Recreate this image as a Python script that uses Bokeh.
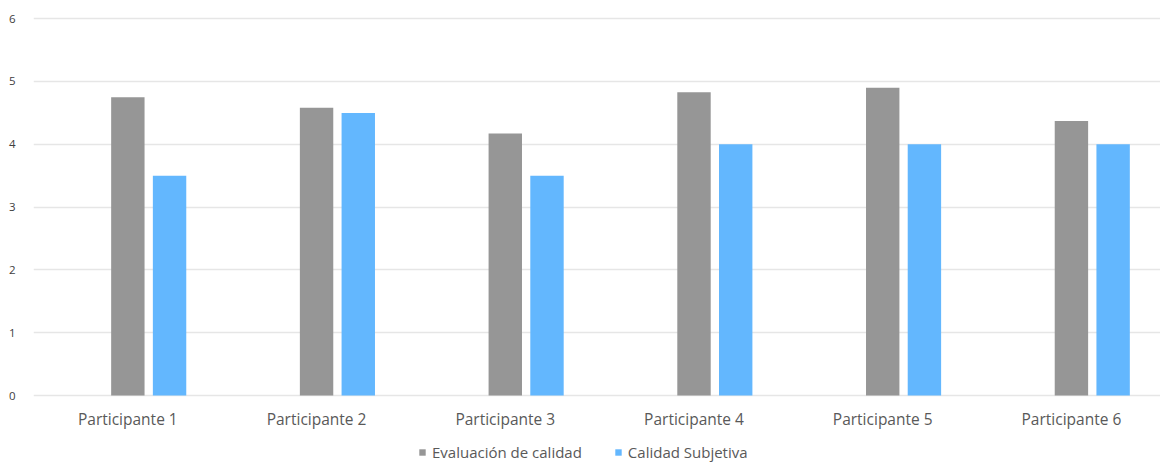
from bokeh.plotting import figure
from bokeh.layouts import column
from bokeh.models import Range1d, Legend, LegendItem, FixedTicker, ColumnDataSource
from bokeh.embed import file_html
from bokeh.resources import INLINE

# Data
participants = ["Participante 1", "Participante 2", "Participante 3",
                "Participante 4", "Participante 5", "Participante 6"]
evaluacion_calidad = [4.75, 4.58, 4.17, 4.83, 4.9, 4.37]
calidad_subjetiva = [3.5, 4.5, 3.5, 4.0, 4.0, 4.0]
y_ticks = [0, 1, 2, 3, 4, 5, 6]
series_names = ["Evaluación de calidad", "Calidad Subjetiva"]

GRAY = "#969696"
BLUE = "#63b7fe"
TEXT = "#595959"
FONT = "Open Sans"

idx = list(range(len(participants)))
bar_w = 0.177
src = ColumnDataSource(dict(
    x_eval=[i for i in idx],
    x_subj=[i + 0.221 for i in idx],
    eval=evaluacion_calidad,
    subj=calidad_subjetiva,
))

# Main bar chart
p = figure(width=1160, height=434, output_backend="svg", toolbar_location=None,
           x_range=Range1d(-0.5, 5.472), y_range=Range1d(-0.03, 6.05),
           min_border_left=33, min_border_right=0, min_border_top=15,
           min_border_bottom=37)
p.outline_line_color = None
p.background_fill_color = "white"
p.border_fill_color = "white"

p.vbar(x="x_eval", top="eval", bottom=0, width=bar_w, source=src,
       fill_color=GRAY, line_color=None)
p.vbar(x="x_subj", top="subj", bottom=0, width=bar_w, source=src,
       fill_color=BLUE, line_color=None)

p.xaxis.ticker = FixedTicker(ticks=idx)
p.xaxis.major_label_overrides = {i: name for i, name in zip(idx, participants)}
p.xaxis.axis_line_color = None
p.xaxis.major_tick_line_color = None
p.xaxis.minor_tick_line_color = None
p.xaxis.major_label_standoff = 4
p.xaxis.major_label_text_font = FONT
p.xaxis.major_label_text_font_size = "15.5px"
p.xaxis.major_label_text_color = TEXT

p.yaxis.ticker = FixedTicker(ticks=y_ticks)
p.yaxis.axis_line_color = None
p.yaxis.major_tick_line_color = None
p.yaxis.minor_tick_line_color = None
p.yaxis.major_label_standoff = 12
p.yaxis.major_label_text_font = FONT
p.yaxis.major_label_text_font_size = "11.5px"
p.yaxis.major_label_text_color = "#404040"

p.xgrid.grid_line_color = None
p.ygrid.grid_line_color = "#e6e6e6"
p.ygrid.grid_line_width = 1.5

# Legend strip underneath the chart (its frame lines up with the chart's)
lg = figure(width=1160, height=28, output_backend="svg", toolbar_location=None,
            x_range=Range1d(0, 1), y_range=Range1d(0, 1),
            x_axis_type=None, y_axis_type=None,
            min_border_left=0, min_border_right=0, min_border_top=0,
            min_border_bottom=0)
lg.outline_line_color = None
lg.xgrid.visible = False
lg.ygrid.visible = False
# key swatches: one bar each, parked outside the visible range
k1 = lg.vbar(x=[5], top=[5], bottom=[4], width=0.1, fill_color=GRAY, line_color=None)
k2 = lg.vbar(x=[5], top=[5], bottom=[4], width=0.1, fill_color=BLUE, line_color=None)

legend = Legend(items=[LegendItem(label=series_names[0], renderers=[k1]),
                       LegendItem(label=series_names[1], renderers=[k2])],
                location=(385, 0), orientation="horizontal",
                glyph_width=8, glyph_height=8, label_standoff=6, spacing=32,
                padding=0, margin=0, label_height=16, border_line_color=None,
                background_fill_alpha=0,
                label_text_font=FONT, label_text_font_size="15px",
                label_text_color=TEXT)
lg.add_layout(legend, "center")

open("out.html", "w").write(file_html(column(p, lg, spacing=0), INLINE))
